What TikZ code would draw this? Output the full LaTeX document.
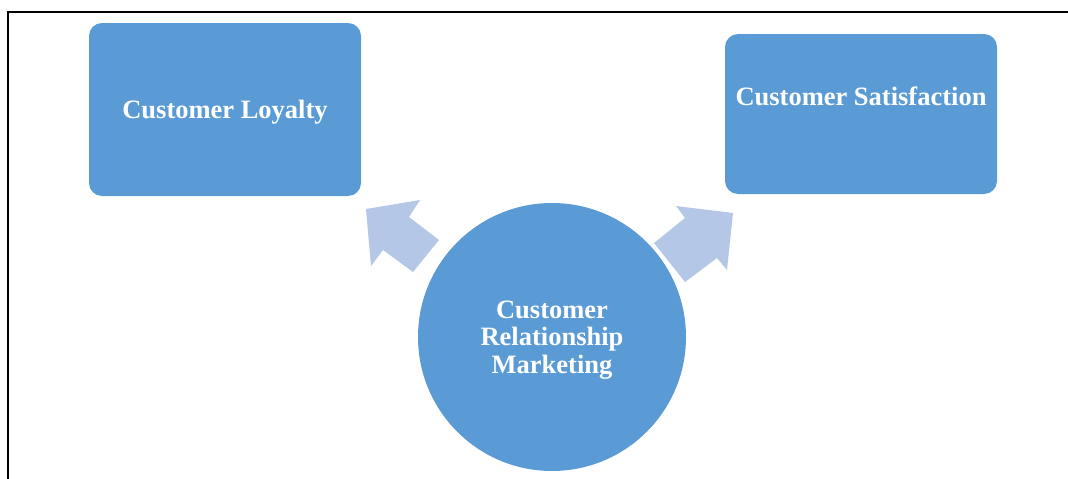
\documentclass[tikz,border=0pt]{standalone}
\usepackage{fontspec}
\setmainfont{Liberation Serif}
\definecolor{boxblue}{HTML}{5B9BD5}
\definecolor{arrowblue}{HTML}{B4C7E7}
\begin{document}
\begin{tikzpicture}[x=1pt,y=-1pt,
  box/.style={fill=boxblue, draw=none, rounded corners=13pt, inner sep=0pt,
    minimum width=272pt, minimum height=#1},
  lbl/.style={text=white, font=\fontsize{26.5}{27.5}\selectfont\bfseries, align=center, inner sep=0pt},
  hub/.style={circle, fill=boxblue, draw=none, minimum size=268pt, inner sep=0pt},
  blockarrow/.style={fill=arrowblue, draw=none}]
\useasboundingbox (0,0) rectangle (1068,479);
% frame lines
\draw[line width=2pt] (8,479) -- (8,12) -- (1068,12);
% outcome boxes
\node[box=173pt] (loyal) at (225,109.5) {};
\node[lbl] (loyaltxt) at ([yshift=-3pt]loyal.center) {Customer Loyalty};
\node[box=160pt] (satis) at (861,114) {};
\node[lbl] (satistxt) at ([yshift=18pt]satis.center) {Customer Satisfaction};
% central circle
\node[hub] (crm) at (552,337) {};
\node[lbl] (crmtxt) at ([yshift=-3pt]crm.center) {Customer\\Relationship\\Marketing};
% block arrows
\fill[blockarrow] (366,209) -- (420,200) -- (409,217) -- (439,240) -- (413,272)
  -- (383,250) -- (371,266) -- cycle;
\fill[blockarrow] (733,213) -- (727,270) -- (717,258) -- (685,282) -- (654,243)
  -- (685,218) -- (676,206) -- cycle;
\end{tikzpicture}
\end{document}
